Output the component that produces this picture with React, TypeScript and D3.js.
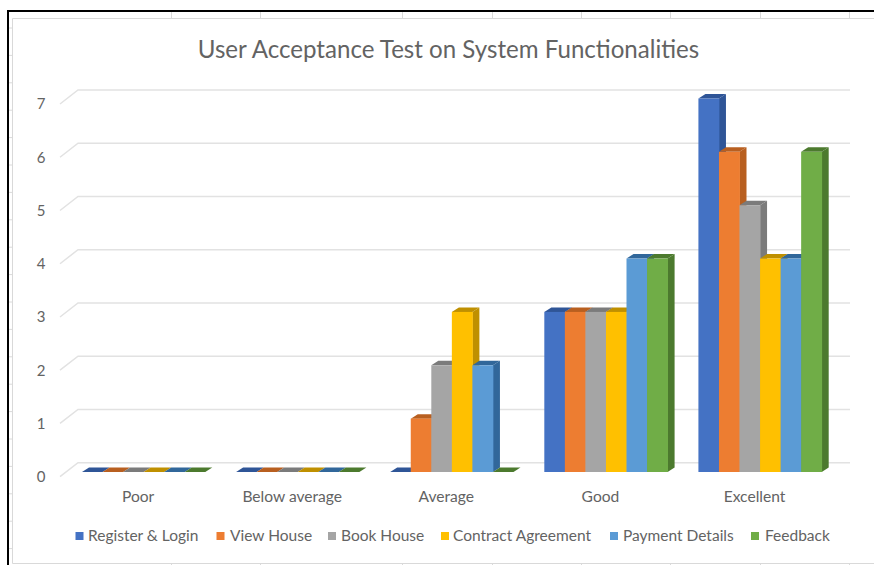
import * as d3 from "d3";

const categories = ["Poor", "Below average", "Average", "Good", "Excellent"];
const seriesNames = ["Register & Login", "View House", "Book House", "Contract Agreement", "Payment Details", "Feedback"];
const registerLogin = [0, 0, 0, 3, 7];
const viewHouse = [0, 0, 1, 3, 6];
const bookHouse = [0, 0, 2, 3, 5];
const contractAgreement = [0, 0, 3, 3, 4];
const paymentDetails = [0, 0, 2, 4, 4];
const feedback = [0, 0, 0, 4, 6];
const seriesValues = [registerLogin, viewHouse, bookHouse, contractAgreement, paymentDetails, feedback];
const yTicks = [0, 1, 2, 3, 4, 5, 6, 7];

const frontColors = ["#4472C4", "#ED7D31", "#A5A5A5", "#FFC000", "#5B9BD5", "#70AD47"];
const shadeColors = ["#2F5597", "#B85F20", "#7B7B7B", "#BF9000", "#31679A", "#4C7A2E"];

// Sheet cell boundaries that show around the chart frame.
const sheetColumns = [171, 260, 402, 492, 581, 670, 760, 849];
const sheetRows = d3.range(28, 560, 27.4);

const legendSwatchX = [75.5, 216.5, 328, 441, 610, 751];
const legendTextX = [88, 230, 341, 453, 623, 765];

const TEXT = "#636363";
const FONT = "Lato, 'Open Sans', sans-serif";

const DEPTH_X = 7;
const DEPTH_Y = -4.5;

const groupX = d3.scaleBand<string>().domain(categories).range([82, 821.7]).paddingInner(0.2).paddingOuter(0);
const barX = d3.scaleBand<number>().domain(d3.range(seriesNames.length)).range([0, groupX.bandwidth()]);
const barY = d3.scaleLinear().domain([0, 7]).range([472, 98.5]);
const wallY = d3.scaleLinear().domain([0, 7]).range([462.7, 90]);

const polygon = d3.line<[number, number]>().curve(d3.curveLinearClosed);

function Bar3D({ x, w, value, s }: { x: number; w: number; value: number; s: number }) {
  const y0 = barY(0);
  const y1 = barY(value);
  const side = polygon([
    [x + w, y1],
    [x + w + DEPTH_X, y1 + DEPTH_Y],
    [x + w + DEPTH_X, y0 + DEPTH_Y],
    [x + w, y0],
  ]) as string;
  const top = polygon([
    [x, y1],
    [x + DEPTH_X, y1 + DEPTH_Y],
    [x + w + DEPTH_X, y1 + DEPTH_Y],
    [x + w, y1],
  ]) as string;
  return (
    <g>
      <path d={side} fill={shadeColors[s]} />
      <path d={top} fill={shadeColors[s]} />
      {value > 0 && <rect x={x} y={y1} width={w + 0.4} height={y0 - y1} fill={frontColors[s]} />}
    </g>
  );
}

export default function App() {
  return (
    <svg
      width={874}
      height={565}
      viewBox="0 0 874 565"
      style={{ position: "absolute", left: 0, top: 0, display: "block", background: "#fff" }}
      fontFamily={FONT}
    >
      {/* sheet cells and chart frame */}
      {sheetColumns.map((x) => (
        <g key={x} stroke="#DADADA" strokeWidth={1}>
          <line x1={x + 0.5} x2={x + 0.5} y1={12} y2={18} />
          <line x1={x + 0.5} x2={x + 0.5} y1={563} y2={565} />
        </g>
      ))}
      {sheetRows.map((y) => (
        <line key={y} x1={9} x2={12} y1={y} y2={y} stroke="#DADADA" strokeWidth={1} />
      ))}
      <path d="M874 18.5H12.5V563.5H874" fill="none" stroke="#D9D9D9" strokeWidth={1} />
      <path d="M8 565V11H874" fill="none" stroke="#000" strokeWidth={2} />

      <text x={448.5} y={58} textAnchor="middle" fontSize={24.1} fill={TEXT}>
        User Acceptance Test on System Functionalities
      </text>

      {/* back wall gridlines and their side-wall returns */}
      {yTicks.map((t) => (
        <g key={t}>
          <path
            d={`M60 ${wallY(t) + 14}L78 ${wallY(t)}H850`}
            fill="none"
            stroke="#E2E2E2"
            strokeWidth={1.5}
          />
          <text x={41} y={wallY(t) + 15.5} textAnchor="middle" dominantBaseline="middle" fontSize={15} fill={TEXT}>
            {t}
          </text>
        </g>
      ))}

      {/* columns, painted left to right so nearer faces overlap */}
      {categories.map((c, ci) => (
        <g key={c}>
          {seriesValues.map((vals, s) => (
            <Bar3D key={s} x={(groupX(c) as number) + (barX(s) as number)} w={barX.bandwidth()} value={vals[ci]} s={s} />
          ))}
          <text
            x={(groupX(c) as number) + groupX.bandwidth() / 2 - 5.5}
            y={498}
            textAnchor="middle"
            dominantBaseline="middle"
            fontSize={15.6}
            fill={TEXT}
          >
            {c}
          </text>
        </g>
      ))}

      {/* legend */}
      {seriesNames.map((name, i) => (
        <g key={name}>
          <rect x={legendSwatchX[i]} y={532} width={8} height={8} fill={frontColors[i]} />
          <text x={legendTextX[i]} y={537} dominantBaseline="middle" fontSize={15.5} fill={TEXT}>
            {name}
          </text>
        </g>
      ))}
    </svg>
  );
}
